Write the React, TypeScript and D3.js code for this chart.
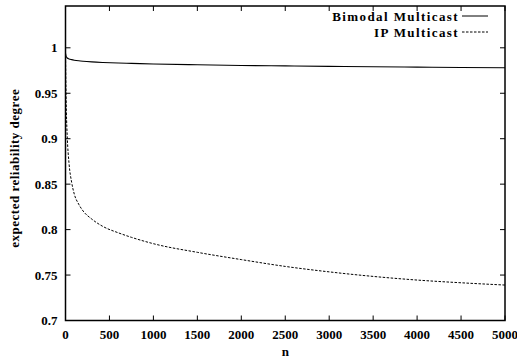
import * as d3 from 'd3';

const nValues = [0, 5, 10, 20, 40, 70, 100, 150, 200, 300, 425, 600, 750, 1000, 1500, 2000, 2500, 3000, 3500, 4000, 4500, 5000];
const bimodal = [0.994, 0.9915, 0.990, 0.9888, 0.9878, 0.987, 0.9864, 0.9857, 0.9852, 0.9845, 0.9839, 0.9833, 0.9829, 0.9822, 0.9813, 0.9806, 0.9801, 0.9796, 0.9791, 0.9787, 0.9783, 0.978];
const ipMulticast = [0.995, 0.955, 0.93, 0.902, 0.873, 0.852, 0.839, 0.828, 0.8205, 0.8115, 0.8035, 0.7965, 0.7915, 0.7845, 0.775, 0.767, 0.7595, 0.7535, 0.7485, 0.7445, 0.7415, 0.739];
const xTicks = [0, 500, 1000, 1500, 2000, 2500, 3000, 3500, 4000, 4500, 5000];
const yTicks = [0.7, 0.75, 0.8, 0.85, 0.9, 0.95, 1];
const seriesNames = ['Bimodal Multicast', 'IP Multicast'];

const width = 517;
const height = 358;
const margin = { left: 65.5, right: 12, top: 6, bottom: 37.5 };
const font = '"Liberation Serif", serif';

export default function App() {
  const x = d3.scaleLinear().domain([0, 5000]).range([margin.left, width - margin.right]);
  const y = d3.scaleLinear().domain([0.7, 1.046]).range([height - margin.bottom, margin.top]);
  const line = (vals: number[]) =>
    d3
      .line<number>()
      .x((_, i) => x(nValues[i]))
      .y((d) => y(d))
      .curve(d3.curveMonotoneX)(vals) ?? '';

  const [x0, x1] = x.range();
  const [y0, y1] = y.range();
  const tick = 5;

  return (
    <svg width={width} height={height} style={{ position: 'absolute', left: 0, top: 0, background: '#fff' }}>
      <g fill="none" stroke="#000">
        <path d={line(bimodal)} strokeWidth={1.1} />
        <path d={line(ipMulticast)} strokeWidth={1} strokeDasharray="2.5,1.5" />
      </g>
      <g stroke="#000" strokeWidth={1}>
        {xTicks.map((t) => (
          <g key={t}>
            <line x1={x(t)} x2={x(t)} y1={y0} y2={y0 - tick} />
            <line x1={x(t)} x2={x(t)} y1={y1} y2={y1 + tick} />
          </g>
        ))}
        {yTicks.map((t) => (
          <g key={t}>
            <line x1={x0} x2={x0 + tick} y1={y(t)} y2={y(t)} />
            <line x1={x1} x2={x1 - tick} y1={y(t)} y2={y(t)} />
          </g>
        ))}
      </g>
      <rect x={x0} y={y1} width={x1 - x0} height={y0 - y1} fill="none" stroke="#000" strokeWidth={1.5} />
      <g fontFamily={font} fontWeight="bold" fontSize={13} fill="#000">
        {xTicks.map((t) => (
          <text key={t} x={x(t)} y={y0 + 18} textAnchor="middle">
            {t}
          </text>
        ))}
        {yTicks.map((t) => (
          <text key={t} x={x0 - 8} y={y(t) + 4.5} textAnchor="end">
            {t}
          </text>
        ))}
        <text x={(x0 + x1) / 2} y={height - 2} textAnchor="middle">
          n
        </text>
        <text
          transform={`translate(18.5,${(y0 + y1) / 2 + 5}) rotate(-90)`}
          textAnchor="middle"
          letterSpacing={0.5}
        >
          expected reliability degree
        </text>
        {seriesNames.map((name, i) => (
          <g key={name}>
            <text x={459} y={20.5 + i * 16} textAnchor="end" letterSpacing={1.4}>
              {name}
            </text>
            <line
              x1={462}
              x2={488}
              y1={16 + i * 16}
              y2={16 + i * 16}
              stroke="#000"
              strokeWidth={1}
              strokeDasharray={i === 1 ? '2.5,1.5' : undefined}
            />
          </g>
        ))}
      </g>
    </svg>
  );
}
